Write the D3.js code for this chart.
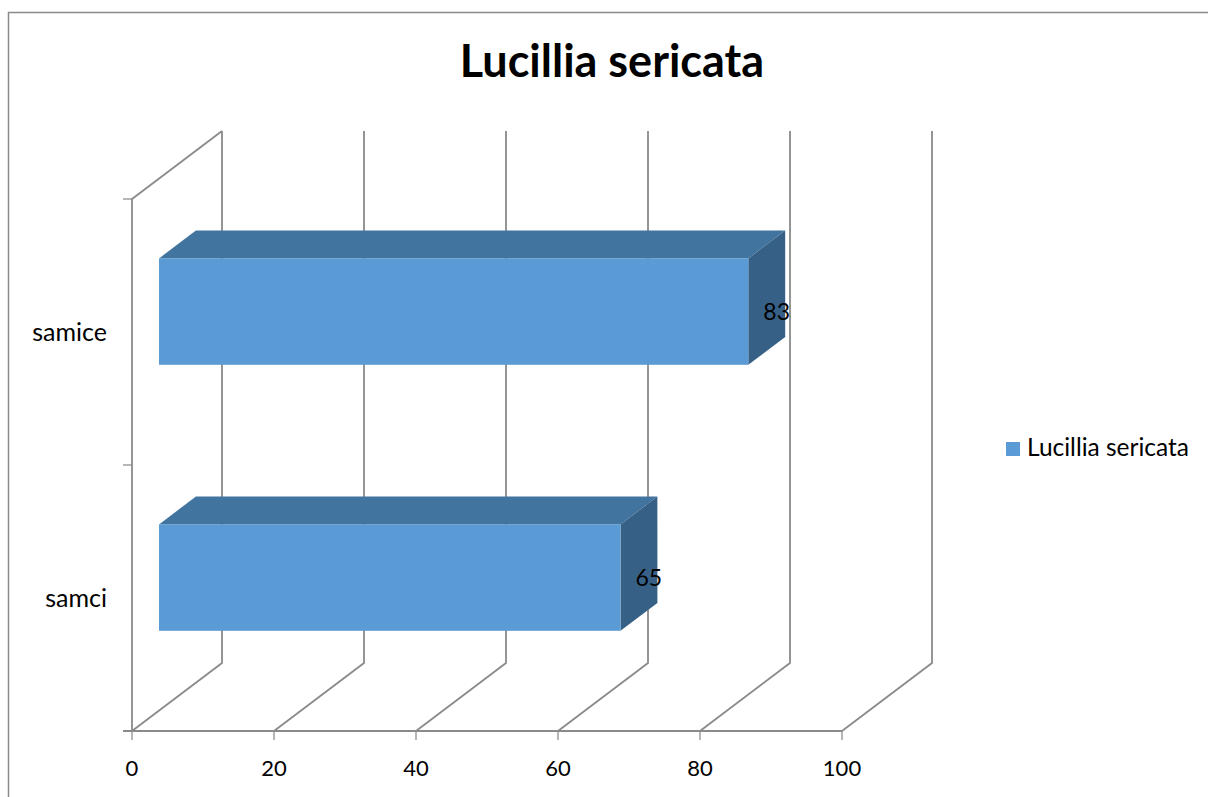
<!DOCTYPE html>
<html>
<head>
<meta charset="utf-8">
<script src="https://cdn.jsdelivr.net/npm/d3@7"></script>
<style>
  body { margin: 0; background: #fff; }
  text { font-family: Lato, "Open Sans", sans-serif; fill: #000; }
</style>
</head>
<body>
<div id="chart"></div>
<script>
const w = 1208;
const h = 797;

const title = "Lucillia sericata";
const seriesName = "Lucillia sericata";
const categories = ["samice", "samci"]; // top to bottom
const values = [83, 65];
const ticks = [0, 20, 40, 60, 80, 100];

// 3d depth of the plot box (back wall offset) and bar depth range
const depth = [90, -68];
const barFront = 0.3;
const barBack = 0.71;

const svg = d3.select("#chart").append("svg")
  .attr("width", w)
  .attr("height", h);

svg.append("rect")
  .attr("x", 8.5).attr("y", 12.5)
  .attr("width", 1400).attr("height", 1000)
  .attr("fill", "none").attr("stroke", "#8a8a8a").attr("stroke-width", 1.5);

svg.append("text")
  .attr("x", 612).attr("y", 77)
  .attr("text-anchor", "middle")
  .style("font-weight", "bold")
  .style("font-size", "45px")
  .text(title);

const x = d3.scaleLinear().domain([0, 100]).range([132, 842]);
const y = d3.scaleBand().domain(categories).range([199, 731]);

const gridColor = "#8a8a8a";
const grid = svg.append("g")
  .attr("stroke", gridColor)
  .attr("stroke-width", 1.8)
  .attr("fill", "none");

// back wall vertical gridlines + floor diagonals
ticks.forEach((t) => {
  const x0 = x(t);
  grid.append("path")
    .attr("d", `M${x0},${y.range()[1]}L${x0 + depth[0]},${y.range()[1] + depth[1]}L${x0 + depth[0]},${y.range()[0] + depth[1]}`);
});

// left wall
grid.append("path")
  .attr("d", `M${x(0)},${y.range()[1]}L${x(0)},${y.range()[0]}L${x(0) + depth[0]},${y.range()[0] + depth[1]}`);

// front baseline
grid.append("line")
  .attr("x1", x(0) - 9).attr("x2", x(100))
  .attr("y1", y.range()[1]).attr("y2", y.range()[1]);

// category ticks on the left
const catTicks = [y.range()[0], y.range()[0] + y.step(), y.range()[1]];
catTicks.forEach((ty) => {
  grid.append("line")
    .attr("x1", x(0) - 9).attr("x2", x(0))
    .attr("y1", ty).attr("y2", ty)
    .attr("stroke-width", 1.25);
});

// value ticks below
ticks.forEach((t) => {
  grid.append("line")
    .attr("x1", x(t)).attr("x2", x(t))
    .attr("y1", y.range()[1]).attr("y2", y.range()[1] + 9)
    .attr("stroke-width", 1.25);
});

svg.append("g").selectAll("text")
  .data(ticks).enter().append("text")
  .attr("x", (d) => x(d))
  .attr("y", 776)
  .attr("text-anchor", "middle")
  .style("font-size", "22px")
  .text((d) => d);

svg.append("g").selectAll("text")
  .data(categories).enter().append("text")
  .attr("x", 107)
  .attr("y", (d) => y(d) + y.bandwidth() / 2 + 3)
  .attr("text-anchor", "end")
  .attr("dominant-baseline", "middle")
  .style("font-size", "25px")
  .text((d) => d);

// bars
const barH = y.bandwidth() * 0.4;
const fx = barFront * depth[0], fy = barFront * depth[1];
const bx = barBack * depth[0], by = barBack * depth[1];

const bars = svg.append("g").selectAll("g")
  .data(categories.map((c, i) => ({ cat: c, value: values[i] })))
  .enter().append("g");

bars.each(function (d) {
  const g = d3.select(this);
  const x0 = x(0), x1 = x(d.value);
  const top = y(d.cat) + y.bandwidth() / 2 - barH / 2;
  const bot = top + barH;
  // top face
  g.append("path")
    .attr("fill", "#4274a0")
    .attr("d", `M${x0 + fx},${top + fy}L${x1 + fx},${top + fy}L${x1 + bx},${top + by}L${x0 + bx},${top + by}Z`);
  // side face
  g.append("path")
    .attr("fill", "#376086")
    .attr("d", `M${x1 + fx},${top + fy}L${x1 + bx},${top + by}L${x1 + bx},${bot + by}L${x1 + fx},${bot + fy}Z`);
  // front face
  g.append("rect")
    .attr("fill", "#5b9bd5")
    .attr("x", x0 + fx).attr("y", top + fy)
    .attr("width", x1 - x0).attr("height", barH);
  g.append("text")
    .attr("x", x1 + fx + 15)
    .attr("y", top + fy + barH / 2 + 3)
    .attr("dominant-baseline", "middle")
    .style("font-size", "23px")
    .text(d.value);
});

// legend
const legend = svg.append("g").attr("transform", "translate(1006,442)");
legend.append("rect")
  .attr("width", 14).attr("height", 14)
  .attr("fill", "#5b9bd5");
legend.append("text")
  .attr("x", 21).attr("y", 8)
  .attr("dominant-baseline", "middle")
  .style("font-size", "24.5px")
  .text(seriesName);
</script>
</body>
</html>
